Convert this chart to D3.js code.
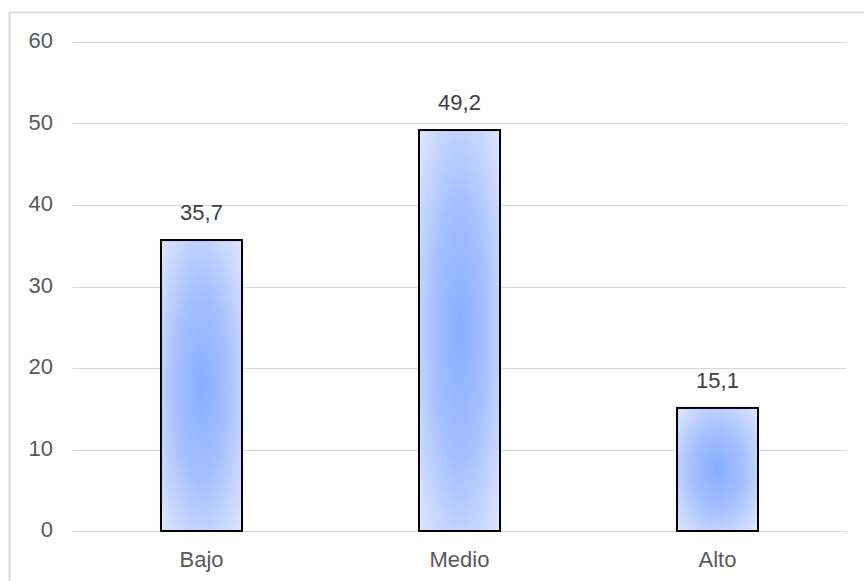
<!DOCTYPE html>
<html>
<head>
<meta charset="utf-8">
<script src="https://cdn.jsdelivr.net/npm/d3@7"></script>
<style>
  html, body { margin: 0; padding: 0; background: #fff; }
  svg { display: block; font-family: "Liberation Sans", Arial, sans-serif; }
</style>
</head>
<body>
<svg id="chart" width="864" height="581"></svg>
<script>
// Nivel categories and percentages
const categories = ["Bajo", "Medio", "Alto"];
const values = [35.7, 49.2, 15.1];
const yTicks = [0, 10, 20, 30, 40, 50, 60];

const svg = d3.select("#chart");
const W = 864, H = 581;
const margin = { left: 72.5, right: 17.5, top: 42, bottom: 50 };
const FONT = 22;

// Outer chart frame
svg.append("rect")
  .attr("x", 9.5).attr("y", 12.5)
  .attr("width", W + 10).attr("height", H + 10)
  .attr("fill", "#fff").attr("stroke", "#d9d9d9").attr("stroke-width", 2);

const x = d3.scaleBand()
  .domain(categories)
  .range([margin.left, W - margin.right])
  .paddingInner(0.686).paddingOuter(0.343);

const y = d3.scaleLinear()
  .domain([0, 60])
  .range([H - margin.bottom, margin.top]);

// Bar fill: light edges fading into a brighter blue centre
const defs = svg.append("defs");
const grad = defs.append("radialGradient")
  .attr("id", "barFill")
  .attr("cx", "50%").attr("cy", "50%").attr("r", "72%");
grad.append("stop").attr("offset", "0%").attr("stop-color", "#88adff");
grad.append("stop").attr("offset", "45%").attr("stop-color", "#a6c0ff");
grad.append("stop").attr("offset", "100%").attr("stop-color", "#e2e9ff");

// Gridlines
svg.append("g")
  .selectAll("line")
  .data(yTicks)
  .join("line")
  .attr("x1", margin.left).attr("x2", W - margin.right)
  .attr("y1", d => Math.round(y(d)) + 0.5).attr("y2", d => Math.round(y(d)) + 0.5)
  .attr("stroke", "#d9d9d9").attr("stroke-width", 1);

// Y axis labels
const yAxis = d3.axisLeft(y).tickValues(yTicks).tickSize(0).tickPadding(0);
const yg = svg.append("g")
  .attr("transform", `translate(53,-1.5)`)
  .call(yAxis);
yg.select(".domain").remove();
yg.selectAll("text")
  .attr("font-size", FONT).attr("fill", "#595959")
  .attr("font-family", "Liberation Sans, Arial, sans-serif");

// X axis labels
const xAxis = d3.axisBottom(x).tickSize(0).tickPadding(0);
const xg = svg.append("g")
  .attr("transform", `translate(0,${H - margin.bottom + 20})`)
  .call(xAxis);
xg.select(".domain").remove();
xg.selectAll("text")
  .attr("font-size", FONT).attr("fill", "#595959")
  .attr("font-family", "Liberation Sans, Arial, sans-serif");

// Bars
svg.append("g")
  .selectAll("rect")
  .data(values)
  .join("rect")
  .attr("x", (d, i) => x(categories[i]))
  .attr("y", d => y(d))
  .attr("width", x.bandwidth())
  .attr("height", d => y(0) - y(d))
  .attr("fill", "url(#barFill)")
  .attr("stroke", "#000").attr("stroke-width", 2);

// Value labels
const fmt = v => v.toFixed(1).replace(".", ",");
svg.append("g")
  .selectAll("text")
  .data(values)
  .join("text")
  .attr("x", (d, i) => x(categories[i]) + x.bandwidth() / 2)
  .attr("y", d => y(d) - 20)
  .attr("text-anchor", "middle")
  .attr("font-size", FONT).attr("fill", "#404040")
  .text(fmt);
</script>
</body>
</html>
